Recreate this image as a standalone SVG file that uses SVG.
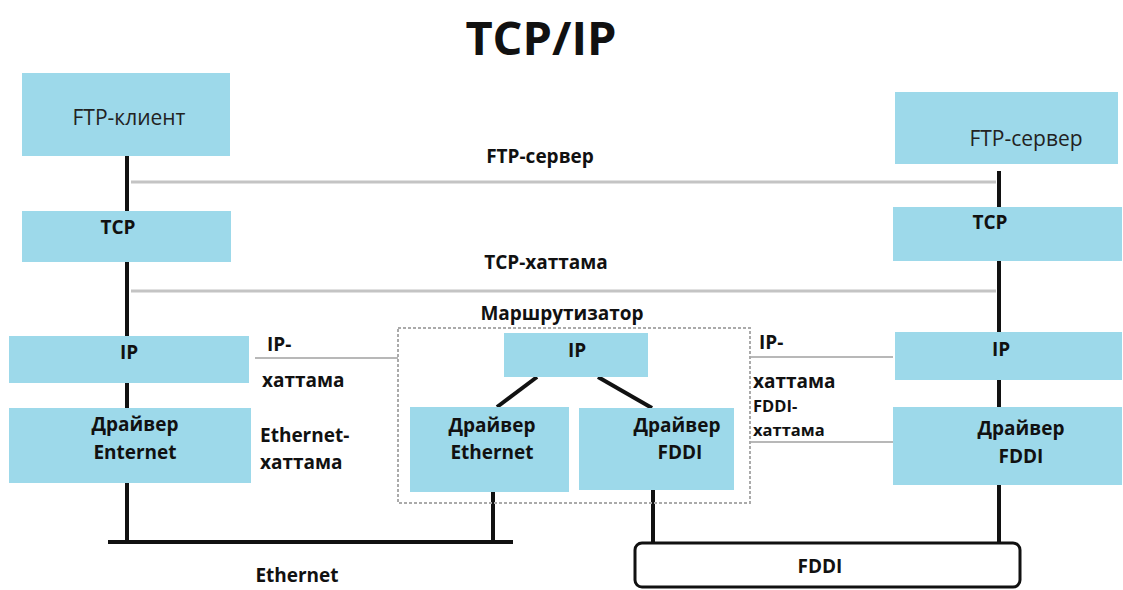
<svg xmlns="http://www.w3.org/2000/svg" width="1123" height="590" viewBox="0 0 1123 590">
<style>
.box{fill:#9dd9ea}
.t{font-family:"Open Sans","Noto Sans",sans-serif;font-size:19px;font-weight:bold;fill:#111}
.s{font-size:16.5px}
.r{font-family:"Open Sans","Noto Sans",sans-serif;font-size:21px;fill:#222}
.c{text-anchor:middle}
.bus{stroke:#111;stroke-width:4;fill:none}
.gray{stroke:#c4c4c4;stroke-width:3;fill:none}
.thin{stroke:#b8b8b8;stroke-width:2;fill:none}
</style>
<rect width="1123" height="590" fill="#fff"/>
<text x="541" y="55" class="t c" style="font-size:47px">TCP/IP</text>

<g id="connectors">
<line class="bus" x1="127" y1="156" x2="127" y2="544"/>
<line class="bus" x1="999" y1="171" x2="999" y2="544"/>
<line class="gray" x1="131" y1="182" x2="996" y2="182"/>
<line class="gray" x1="131" y1="291" x2="996" y2="291"/>
<line class="thin" x1="255" y1="358" x2="398" y2="358"/>
<line class="thin" x1="750" y1="357" x2="893" y2="357"/>
<line class="thin" x1="750" y1="442" x2="893" y2="442"/>
<line class="bus" x1="537" y1="377" x2="497" y2="407"/>
<line class="bus" x1="598" y1="377" x2="652" y2="408"/>
<line class="bus" x1="493" y1="492" x2="493" y2="543"/>
<line class="bus" x1="653" y1="490" x2="653" y2="544"/>
<line class="bus" x1="108" y1="542" x2="513" y2="542"/>
</g>

<g id="labels">
<text x="540" y="163" class="t c">FTP-сервер</text>
<text x="546" y="269" class="t c">TCP-хаттама</text>
<text x="267" y="351" class="t">IP-</text>
<text x="262" y="387" class="t">хаттама</text>
<text x="260" y="442" class="t">Ethernet-</text>
<text x="260" y="469" class="t">хаттама</text>
<text x="297" y="582" class="t c">Ethernet</text>
<text x="759" y="349" class="t">IP-</text>
<text x="753" y="388" class="t">хаттама</text>
<text x="753" y="412" class="t s">FDDI-</text>
<text x="753" y="436" class="t s">хаттама</text>
</g>

<g id="ftp-client">
<rect class="box" x="22" y="73" width="208" height="83"/>
<text x="129" y="125" class="r c">FTP-клиент</text>
</g>
<g id="tcp-left">
<rect class="box" x="22" y="211" width="209" height="51"/>
<text x="118" y="234" class="t c">TCP</text>
</g>
<g id="ip-left">
<rect class="box" x="9" y="336" width="240" height="47"/>
<text x="129" y="359" class="t c">IP</text>
</g>
<g id="driver-left">
<rect class="box" x="9" y="408" width="242" height="75"/>
<text x="135" y="431" class="t c">Драйвер</text>
<text x="135" y="459" class="t c">Enternet</text>
</g>

<g id="router">
<rect x="398" y="328" width="352" height="175" fill="none" stroke="#aaa" stroke-width="2" stroke-dasharray="3,2"/>
<text x="562" y="320" class="t c">Маршрутизатор</text>
</g>
<g id="ip-router">
<rect class="box" x="504" y="333" width="144" height="44"/>
<text x="577" y="357" class="t c">IP</text>
</g>
<g id="driver-eth-router">
<rect class="box" x="410" y="407" width="159" height="85"/>
<text x="492" y="432" class="t c">Драйвер</text>
<text x="492" y="459" class="t c">Ethernet</text>
</g>
<g id="driver-fddi-router">
<rect class="box" x="579" y="408" width="155" height="82"/>
<text x="677" y="432" class="t c">Драйвер</text>
<text x="680" y="459" class="t c">FDDI</text>
</g>

<g id="ftp-server">
<rect class="box" x="895" y="92" width="223" height="72"/>
<text x="1026" y="146" class="r c">FTP-сервер</text>
</g>
<g id="tcp-right">
<rect class="box" x="893" y="207" width="229" height="54"/>
<text x="990" y="229" class="t c">TCP</text>
</g>
<g id="ip-right">
<rect class="box" x="895" y="332" width="227" height="48"/>
<text x="1001" y="356" class="t c">IP</text>
</g>
<g id="driver-right">
<rect class="box" x="893" y="407" width="229" height="78"/>
<text x="1021" y="435" class="t c">Драйвер</text>
<text x="1021" y="463" class="t c">FDDI</text>
</g>

<g id="fddi">
<rect x="635" y="543" width="385" height="44" rx="7" fill="#fff" stroke="#111" stroke-width="3"/>
<text x="820" y="573" class="t c">FDDI</text>
</g>
</svg>
